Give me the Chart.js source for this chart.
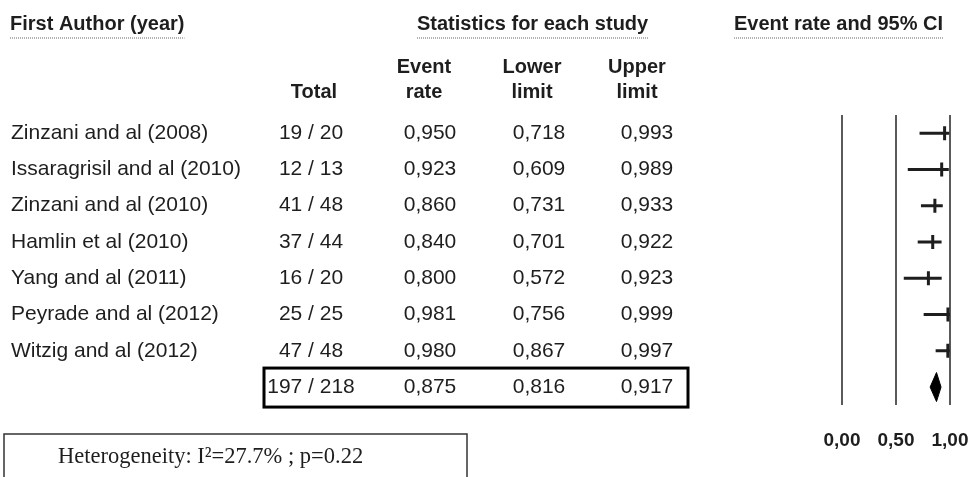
<!DOCTYPE html>
<html>
<head>
<meta charset="utf-8">
<script src="https://cdn.jsdelivr.net/npm/chart.js@4"></script>
<style>
  body { margin: 0; background: #fff; }
  canvas { display: block; }
</style>
</head>
<body>
<canvas id="forest" width="976" height="477"></canvas>
<script>
// study data
var studies = [
    "Zinzani and al (2008)",
    "Issaragrisil and al (2010)",
    "Zinzani and al (2010)",
    "Hamlin et al (2010)",
    "Yang and al (2011)",
    "Peyrade and al (2012)",
    "Witzig and al (2012)"
];
var events = [19, 12, 41, 37, 16, 25, 47];
var totals = [20, 13, 48, 44, 20, 25, 48];
var rate = [0.950, 0.923, 0.860, 0.840, 0.800, 0.981, 0.980];
var lower = [0.718, 0.609, 0.731, 0.701, 0.572, 0.756, 0.867];
var upper = [0.993, 0.989, 0.933, 0.922, 0.923, 0.999, 0.997];

// pooled estimate
var pooledEvents = 197;
var pooledTotal = 218;
var pooledRate = 0.875;
var pooledLower = 0.816;
var pooledUpper = 0.917;

var xTicks = [0, 0.5, 1];
var heterogeneity = "Heterogeneity: I\u00b2=27.7% ; p=0.22";

var summaryRow = studies.length;
var diamondHalf = 0.4;
var ink = "#1e1e1e";

function fmt(v, d) {
    return v.toFixed(d).replace(".", ",");
}

// CI segments: one line dataset, broken by null points
var ciPoints = [];
for (var i = 0; i < studies.length; i++) {
    ciPoints.push({x: lower[i], y: i});
    ciPoints.push({x: upper[i], y: i});
    ciPoints.push({x: null, y: null});
}
var ratePoints = rate.map(function (r, i) { return {x: r, y: i}; });
var diamond = [
    {x: pooledLower, y: summaryRow},
    {x: pooledRate, y: summaryRow - diamondHalf},
    {x: pooledUpper, y: summaryRow},
    {x: pooledRate, y: summaryRow + diamondHalf},
    {x: pooledLower, y: summaryRow}
];

var cols = {total: 311, rate: 430, lower: 539, upper: 647};

function underline(ctx, x, y, w) {
    ctx.save();
    ctx.strokeStyle = "#666";
    ctx.lineWidth = 1;
    ctx.setLineDash([1, 1]);
    ctx.beginPath();
    ctx.moveTo(x, y);
    ctx.lineTo(x + w, y);
    ctx.stroke();
    ctx.restore();
}

var tablePlugin = {
    id: "table",
    afterDraw: function (chart) {
        var ctx = chart.ctx;
        var y = chart.scales.y;
        ctx.save();
        ctx.fillStyle = ink;
        ctx.textBaseline = "middle";

        // headers
        ctx.font = "bold 20px 'Liberation Sans', Arial, sans-serif";
        ctx.textAlign = "left";
        var heads = [["First Author (year)", 10], ["Statistics for each study", 417], ["Event rate and 95% CI", 734]];
        heads.forEach(function (h) {
            ctx.fillText(h[0], h[1], 24);
            underline(ctx, h[1], 38, ctx.measureText(h[0]).width);
        });
        ctx.textAlign = "center";
        ctx.fillText("Total", 314, 92);
        ctx.fillText("Event", 424, 67);
        ctx.fillText("rate", 424, 92);
        ctx.fillText("Lower", 532, 67);
        ctx.fillText("limit", 532, 92);
        ctx.fillText("Upper", 637, 67);
        ctx.fillText("limit", 637, 92);

        // study rows
        ctx.font = "21px 'Liberation Sans', Arial, sans-serif";
        for (var i = 0; i < studies.length; i++) {
            var py = y.getPixelForValue(i);
            ctx.textAlign = "left";
            ctx.fillText(studies[i], 11, py);
            ctx.textAlign = "center";
            ctx.fillText(events[i] + " / " + totals[i], cols.total, py);
            ctx.fillText(fmt(rate[i], 3), cols.rate, py);
            ctx.fillText(fmt(lower[i], 3), cols.lower, py);
            ctx.fillText(fmt(upper[i], 3), cols.upper, py);
        }

        // pooled row in a box
        var sy = y.getPixelForValue(summaryRow);
        ctx.fillText(pooledEvents + " / " + pooledTotal, cols.total, sy);
        ctx.fillText(fmt(pooledRate, 3), cols.rate, sy);
        ctx.fillText(fmt(pooledLower, 3), cols.lower, sy);
        ctx.fillText(fmt(pooledUpper, 3), cols.upper, sy);
        ctx.strokeStyle = "#000";
        ctx.lineWidth = 3;
        ctx.strokeRect(264, sy - 19, 424, 39);

        // heterogeneity box
        ctx.strokeStyle = "#333";
        ctx.lineWidth = 1.5;
        ctx.strokeRect(4, 434, 463, 60);
        ctx.font = "22.5px 'Liberation Serif', 'Times New Roman', serif";
        ctx.textAlign = "left";
        ctx.fillText(heterogeneity, 58, 457);
        ctx.restore();
    }
};

var ctx = document.getElementById("forest").getContext("2d");
var chart = new Chart(ctx, {
    type: "line",
    data: {
        datasets: [{
            label: "95% CI",
            data: ciPoints,
            borderColor: ink,
            borderWidth: 3,
            pointRadius: 0,
            spanGaps: false
        }, {
            label: "Event rate",
            data: ratePoints,
            showLine: false,
            pointStyle: "line",
            rotation: 90,
            pointRadius: 7,
            pointBorderWidth: 3,
            pointBorderColor: ink
        }, {
            label: "Pooled",
            data: diamond,
            borderColor: "#000",
            backgroundColor: "#000",
            borderWidth: 1,
            pointRadius: 0,
            tension: 0,
            fill: "shape"
        }]
    },
    options: {
        responsive: false,
        animation: false,
        // chart area is the forest panel: x 842..950, y 115..405
        layout: {padding: {left: 842, right: 26, top: 115, bottom: 0}},
        plugins: {legend: {display: false}, tooltip: {enabled: false}},
        scales: {
            x: {
                type: "linear",
                min: 0,
                max: 1,
                afterBuildTicks: function (axis) {
                    axis.ticks = xTicks.map(function (v) { return {value: v}; });
                },
                afterFit: function (axis) {
                    axis.paddingLeft = 0;
                    axis.paddingRight = 0;
                },
                ticks: {
                    padding: 24.5,
                    maxRotation: 0,
                    minRotation: 0,
                    autoSkip: false,
                    color: ink,
                    font: {family: "'Liberation Sans', Arial, sans-serif", size: 19, weight: "bold"},
                    callback: function (v) { return fmt(v, 2); }
                },
                grid: {color: "#5a5a5a", lineWidth: 2, drawTicks: false},
                border: {display: false}
            },
            y: {
                type: "linear",
                display: false,
                reverse: true,
                min: -0.5,
                max: summaryRow + 0.5
            }
        }
    },
    plugins: [tablePlugin]
});
</script>
</body>
</html>
